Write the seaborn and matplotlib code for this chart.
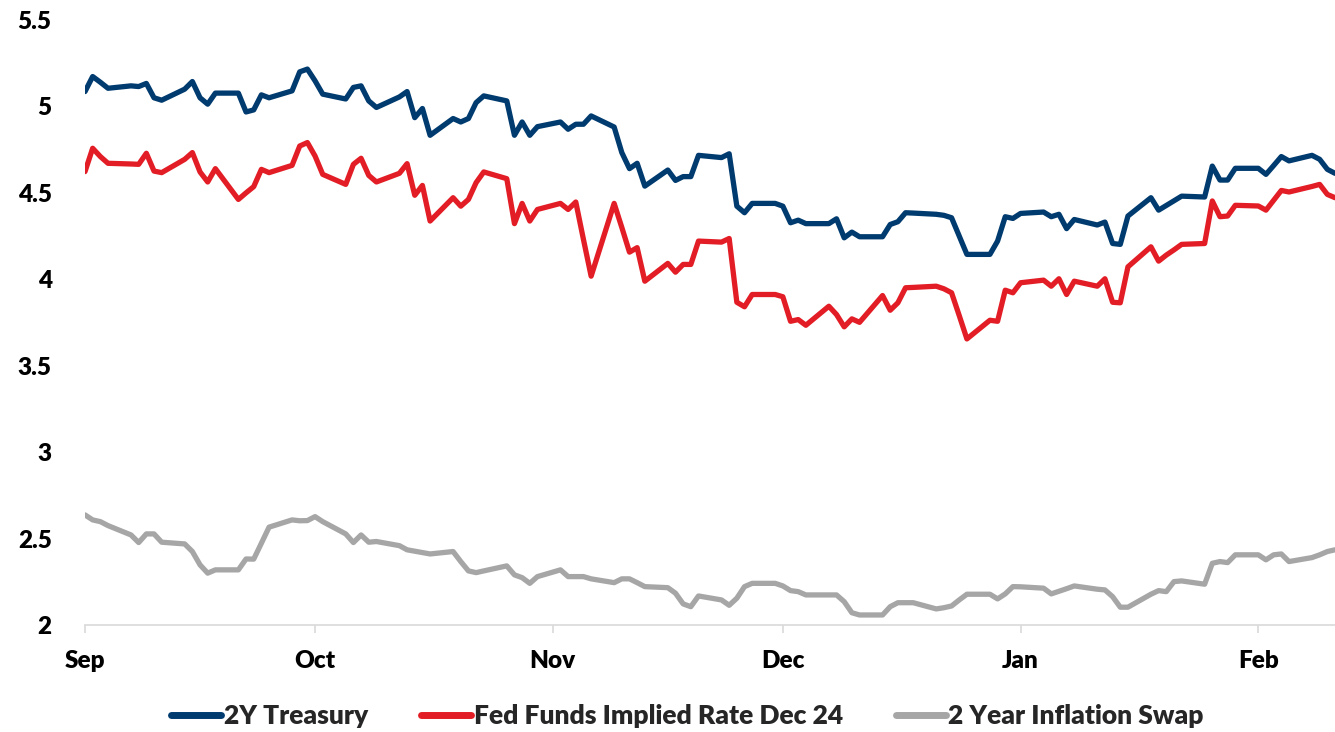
import numpy as np
import pandas as pd
import matplotlib
matplotlib.use("Agg")
import matplotlib.pyplot as plt
import matplotlib.dates as mdates
from matplotlib.ticker import FuncFormatter
import seaborn as sns

# Trading days (weekday layout chosen so weekend gaps line up with the reference)
dates = pd.bdate_range("2020-09-01", "2021-02-11")

treasury_2y = [
    5.086, 5.173, 5.14, 5.105,
    5.119, 5.115, 5.133, 5.05, 5.036,
    5.10, 5.144, 5.05, 5.013, 5.077,
    5.077, 4.968, 4.98, 5.067, 5.05,
    5.09, 5.20, 5.216, 5.148, 5.071,
    5.043, 5.11, 5.119, 5.032, 4.994,
    5.055, 5.086, 4.935, 4.988, 4.833,
    4.93, 4.91, 4.93, 5.022, 5.061,
    5.032, 4.833, 4.91, 4.833, 4.883,
    4.91, 4.868, 4.897, 4.897, 4.945,
    4.881, 4.733, 4.64, 4.671, 4.539,
    4.632, 4.572, 4.594, 4.594, 4.717,
    4.704, 4.726, 4.423, 4.385, 4.439,
    4.439, 4.423, 4.327, 4.342, 4.322,
    4.322, 4.35, 4.24, 4.273, 4.246,
    4.246, 4.317, 4.333, 4.385, 4.383,
    4.376, 4.37, 4.356, 4.25, 4.144,
    4.144, 4.221, 4.362, 4.352, 4.381,
    4.389, 4.362, 4.376, 4.293, 4.346,
    4.314, 4.331, 4.207, 4.202, 4.366,
    4.472, 4.40, 4.427, 4.454, 4.481,
    4.476, 4.655, 4.574, 4.574, 4.642,
    4.642, 4.607, 4.658, 4.71, 4.685,
    4.717, 4.694, 4.636, 4.613,
]

fed_funds_dec24 = [
    4.623, 4.758, 4.71, 4.671,
    4.667, 4.665, 4.729, 4.626, 4.617,
    4.694, 4.733, 4.621, 4.563, 4.64,
    4.462, 4.50, 4.536, 4.636, 4.617,
    4.659, 4.771, 4.791, 4.713, 4.607,
    4.549, 4.665, 4.70, 4.601, 4.563,
    4.613, 4.669, 4.486, 4.543, 4.337,
    4.472, 4.423, 4.462, 4.559, 4.621,
    4.582, 4.322, 4.439, 4.337, 4.404,
    4.439, 4.404, 4.447, 4.23, 4.018,
    4.439, 4.30, 4.157, 4.183, 3.989,
    4.092, 4.041, 4.086, 4.086, 4.221,
    4.215, 4.236, 3.867, 3.841, 3.912,
    3.912, 3.899, 3.757, 3.767, 3.734,
    3.844, 3.796, 3.725, 3.771, 3.751,
    3.906, 3.821, 3.864, 3.951, 3.953,
    3.96, 3.945, 3.922, 3.79, 3.655,
    3.763, 3.757, 3.937, 3.922, 3.98,
    3.995, 3.96, 4.003, 3.912, 3.989,
    3.96, 4.003, 3.867, 3.864, 4.072,
    4.188, 4.105, 4.14, 4.17, 4.202,
    4.207, 4.453, 4.362, 4.366, 4.428,
    4.424, 4.40, 4.457, 4.514, 4.505,
    4.537, 4.549, 4.491, 4.472,
]

inflation_swap_2y = [
    2.637, 2.608, 2.598, 2.575,
    2.521, 2.477, 2.527, 2.527, 2.479,
    2.469, 2.425, 2.348, 2.30, 2.319,
    2.319, 2.382, 2.381, 2.473, 2.566,
    2.608, 2.603, 2.604, 2.627, 2.598,
    2.527, 2.477, 2.521, 2.479, 2.483,
    2.459, 2.435, 2.427, 2.419, 2.411,
    2.425, 2.367, 2.313, 2.303, 2.313,
    2.342, 2.29, 2.274, 2.241, 2.28,
    2.319, 2.28, 2.28, 2.28, 2.267,
    2.245, 2.267, 2.267, 2.245, 2.222,
    2.216, 2.184, 2.122, 2.106, 2.168,
    2.145, 2.114, 2.155, 2.222, 2.241,
    2.241, 2.226, 2.199, 2.193, 2.174,
    2.174, 2.174, 2.135, 2.071, 2.058,
    2.058, 2.106, 2.129, 2.129, 2.129,
    2.093, 2.10, 2.11, 2.145, 2.178,
    2.178, 2.151, 2.18, 2.222, 2.221,
    2.213, 2.18, 2.195, 2.21, 2.226,
    2.207, 2.203, 2.164, 2.103, 2.103,
    2.178, 2.199, 2.193, 2.251, 2.255,
    2.236, 2.357, 2.367, 2.361, 2.406,
    2.406, 2.377, 2.406, 2.411, 2.367,
    2.39, 2.406, 2.425, 2.435,
]

series_names = ["2Y Treasury", "Fed Funds Implied Rate Dec 24", "2 Year Inflation Swap"]
series_colors = ["#003b6f", "#e31d25", "#a6a6a6"]
y_ticks = [2, 2.5, 3, 3.5, 4, 4.5, 5, 5.5]

df = pd.DataFrame({
    "date": np.concatenate([dates, dates, dates]),
    "value": treasury_2y + fed_funds_dec24 + inflation_swap_2y,
    "series": np.repeat(series_names, len(dates)),
})

sns.set_theme(style="white")
plt.rcParams["font.family"] = ["Lato", "DejaVu Sans"]
plt.rcParams["font.weight"] = 800

fig = plt.figure(figsize=(13.35, 7.32), dpi=100)
ax = fig.add_axes([85 / 1335, 1 - 625 / 732, 1 - 85 / 1335, (625 - 20) / 732])

sns.lineplot(data=df, x="date", y="value", hue="series", hue_order=series_names,
             palette=series_colors, linewidth=3.8, ax=ax, legend=True)

handles, labels = ax.get_legend_handles_labels()
ax.get_legend().remove()
for h in handles:
    h.set_linewidth(5)
fig.legend(handles, labels, loc="center", bbox_to_anchor=(0.515, 0.022), ncol=3,
           frameon=False, handlelength=1.9, handletextpad=0.1,
           columnspacing=2.0, prop={"family": "Lato", "weight": 800, "size": 19})

ax.set_xlim(dates[0], dates[-1])
ax.set_ylim(2, 5.5)
ax.set_yticks(y_ticks)
ax.yaxis.set_major_formatter(FuncFormatter(lambda v, p: f"{v:g}"))
ax.xaxis.set_major_locator(mdates.MonthLocator())
ax.xaxis.set_major_formatter(mdates.DateFormatter("%b"))
ax.set_xlabel("")
ax.set_ylabel("")

for s in ["top", "right", "left"]:
    ax.spines[s].set_visible(False)
ax.spines["bottom"].set_color("#d9d9d9")
ax.spines["bottom"].set_linewidth(1.2)

ax.tick_params(axis="x", length=6, width=1.2, color="#d9d9d9", pad=12,
               labelsize=17.5, labelcolor="black", bottom=True)
ax.tick_params(axis="y", length=0, pad=24, labelsize=17.5, labelcolor="black")

fig.savefig("out.png", dpi=100, facecolor="white")
